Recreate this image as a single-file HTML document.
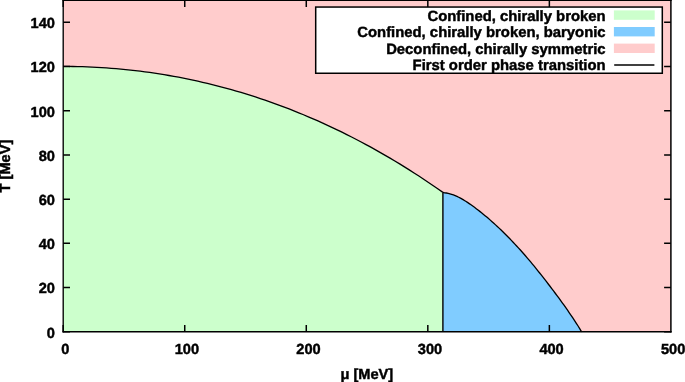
<!DOCTYPE html>
<html><head><meta charset="utf-8"><style>
html,body{margin:0;padding:0;background:#fff;}
svg{display:block;}
.ov{position:absolute;left:0;top:0;will-change:transform;}
.t{text-rendering:geometricPrecision;font-family:"Liberation Sans",sans-serif;font-weight:bold;font-size:14.6px;fill:#000;stroke:#000;stroke-width:0.45px;}
.l{font-size:14.85px;}
</style></head><body>
<div style="position:relative;width:685px;height:382px;">
<svg width="685" height="382" viewBox="0 0 685 382">
<rect x="63.2" y="0" width="607.6999999999999" height="332.0" fill="#ffcccc"/>
<polygon points="63.2,332.0 63.20,66.40 68.01,66.43 72.81,66.49 77.62,66.58 82.43,66.71 87.23,66.88 92.04,67.08 96.84,67.33 101.65,67.61 106.46,67.92 111.26,68.28 116.07,68.67 120.88,69.10 125.68,69.56 130.49,70.07 135.29,70.61 140.10,71.19 144.91,71.81 149.71,72.47 154.52,73.17 159.33,73.90 164.13,74.67 168.94,75.49 173.75,76.34 178.55,77.23 183.36,78.16 188.16,79.13 192.97,80.14 197.78,81.19 202.58,82.28 207.39,83.42 212.20,84.59 217.00,85.80 221.81,87.05 226.62,88.34 231.42,89.68 236.23,91.05 241.03,92.47 245.84,93.93 250.65,95.43 255.45,96.98 260.26,98.56 265.07,100.19 269.87,101.86 274.68,103.57 279.48,105.33 284.29,107.13 289.10,108.97 293.90,110.86 298.71,112.79 303.52,114.77 308.32,116.78 313.13,118.85 317.94,120.96 322.74,123.11 327.55,125.31 332.35,127.56 337.16,129.85 341.97,132.18 346.77,134.57 351.58,137.00 356.39,139.47 361.19,142.00 366.00,144.57 370.81,147.19 375.61,149.85 380.42,152.57 385.22,155.33 390.03,158.14 394.84,161.00 399.64,163.91 404.45,166.87 409.26,169.88 414.06,172.94 418.87,176.05 423.67,179.21 428.48,182.42 433.29,185.68 438.09,189.00 442.90,192.40 442.9,332.0" fill="#ccffcc"/>
<polygon points="442.9,332.0 442.90,192.40 444.66,192.77 446.41,193.00 448.17,193.34 449.92,193.78 451.68,194.31 453.43,194.92 455.19,195.62 456.95,196.40 458.70,197.24 460.46,198.16 462.21,199.14 463.97,200.18 465.72,201.27 467.48,202.40 469.24,203.59 470.99,204.81 472.75,206.06 474.50,207.35 476.26,208.66 478.01,210.00 479.77,211.37 481.53,212.76 483.28,214.18 485.04,215.63 486.79,217.11 488.55,218.61 490.30,220.13 492.06,221.69 493.82,223.26 495.57,224.87 497.33,226.49 499.08,228.15 500.84,229.82 502.59,231.52 504.35,233.25 506.11,234.99 507.86,236.76 509.62,238.56 511.37,240.37 513.13,242.21 514.88,244.08 516.64,245.96 518.39,247.88 520.15,249.81 521.91,251.77 523.66,253.76 525.42,255.77 527.17,257.80 528.93,259.86 530.68,261.95 532.44,264.06 534.20,266.20 535.95,268.36 537.71,270.54 539.46,272.73 541.22,274.95 542.97,277.19 544.73,279.44 546.49,281.70 548.24,283.98 550.00,286.27 551.75,288.58 553.51,290.90 555.26,293.24 557.02,295.59 558.78,297.97 560.53,300.37 562.29,302.79 564.04,305.24 565.80,307.72 567.55,310.23 569.31,312.77 571.07,315.34 572.82,317.96 574.58,320.60 576.33,323.29 578.09,326.02 579.84,328.80 581.60,331.80 580.8000000000001,332.0" fill="#80ccff"/>
<polyline points="63.20,66.40 68.01,66.43 72.81,66.49 77.62,66.58 82.43,66.71 87.23,66.88 92.04,67.08 96.84,67.33 101.65,67.61 106.46,67.92 111.26,68.28 116.07,68.67 120.88,69.10 125.68,69.56 130.49,70.07 135.29,70.61 140.10,71.19 144.91,71.81 149.71,72.47 154.52,73.17 159.33,73.90 164.13,74.67 168.94,75.49 173.75,76.34 178.55,77.23 183.36,78.16 188.16,79.13 192.97,80.14 197.78,81.19 202.58,82.28 207.39,83.42 212.20,84.59 217.00,85.80 221.81,87.05 226.62,88.34 231.42,89.68 236.23,91.05 241.03,92.47 245.84,93.93 250.65,95.43 255.45,96.98 260.26,98.56 265.07,100.19 269.87,101.86 274.68,103.57 279.48,105.33 284.29,107.13 289.10,108.97 293.90,110.86 298.71,112.79 303.52,114.77 308.32,116.78 313.13,118.85 317.94,120.96 322.74,123.11 327.55,125.31 332.35,127.56 337.16,129.85 341.97,132.18 346.77,134.57 351.58,137.00 356.39,139.47 361.19,142.00 366.00,144.57 370.81,147.19 375.61,149.85 380.42,152.57 385.22,155.33 390.03,158.14 394.84,161.00 399.64,163.91 404.45,166.87 409.26,169.88 414.06,172.94 418.87,176.05 423.67,179.21 428.48,182.42 433.29,185.68 438.09,189.00 442.90,192.40" fill="none" stroke="#000" stroke-width="1.3" stroke-linejoin="round"/>
<polyline points="442.90,192.40 444.66,192.77 446.41,193.00 448.17,193.34 449.92,193.78 451.68,194.31 453.43,194.92 455.19,195.62 456.95,196.40 458.70,197.24 460.46,198.16 462.21,199.14 463.97,200.18 465.72,201.27 467.48,202.40 469.24,203.59 470.99,204.81 472.75,206.06 474.50,207.35 476.26,208.66 478.01,210.00 479.77,211.37 481.53,212.76 483.28,214.18 485.04,215.63 486.79,217.11 488.55,218.61 490.30,220.13 492.06,221.69 493.82,223.26 495.57,224.87 497.33,226.49 499.08,228.15 500.84,229.82 502.59,231.52 504.35,233.25 506.11,234.99 507.86,236.76 509.62,238.56 511.37,240.37 513.13,242.21 514.88,244.08 516.64,245.96 518.39,247.88 520.15,249.81 521.91,251.77 523.66,253.76 525.42,255.77 527.17,257.80 528.93,259.86 530.68,261.95 532.44,264.06 534.20,266.20 535.95,268.36 537.71,270.54 539.46,272.73 541.22,274.95 542.97,277.19 544.73,279.44 546.49,281.70 548.24,283.98 550.00,286.27 551.75,288.58 553.51,290.90 555.26,293.24 557.02,295.59 558.78,297.97 560.53,300.37 562.29,302.79 564.04,305.24 565.80,307.72 567.55,310.23 569.31,312.77 571.07,315.34 572.82,317.96 574.58,320.60 576.33,323.29 578.09,326.02 579.84,328.80 581.60,331.80" fill="none" stroke="#000" stroke-width="1.3" stroke-linejoin="round"/>
<line x1="442.9" y1="192.4" x2="442.9" y2="331.8" stroke="#000" stroke-width="1.4"/>
<path d="M63.20,331.8v-6.8M63.20,0.2v6.8M184.74,331.8v-6.8M184.74,0.2v6.8M306.28,331.8v-6.8M306.28,0.2v6.8M427.82,331.8v-6.8M427.82,0.2v6.8M549.36,331.8v-6.8M549.36,0.2v6.8M63.2,331.80h6.8M670.9,331.80h-6.8M63.2,287.59h6.8M670.9,287.59h-6.8M63.2,243.37h6.8M670.9,243.37h-6.8M63.2,199.16h6.8M670.9,199.16h-6.8M63.2,154.95h6.8M670.9,154.95h-6.8M63.2,110.73h6.8M670.9,110.73h-6.8M63.2,66.52h6.8M670.9,66.52h-6.8M63.2,22.31h6.8M670.9,22.31h-6.8" stroke="#000" stroke-width="1.5" fill="none"/>
<path d="M63.2,-0.49999999999999994V332.5" stroke="#000" stroke-width="1.35" fill="none"/>
<path d="M670.9,-0.49999999999999994V332.5" stroke="#000" stroke-width="1.5" fill="none"/>
<path d="M62.5,331.8H671.65" stroke="#000" stroke-width="1.4" fill="none"/>
<path d="M62.5,0.2H671.65" stroke="#000" stroke-width="1.5" fill="none"/>
<rect x="315.7" y="7.05" width="346.59999999999997" height="66.2" fill="#fff" stroke="#000" stroke-width="1.5"/>
<rect x="613.9" y="10.40" width="40.8" height="9.4" fill="#ccffcc"/>
<rect x="613.9" y="27.00" width="40.8" height="9.4" fill="#80ccff"/>
<rect x="613.9" y="43.60" width="40.8" height="9.4" fill="#ffcccc"/>
<line x1="614.2" y1="64.90" x2="654.4" y2="64.90" stroke="#000" stroke-width="1.5"/>
</svg>
<svg class="ov" width="685" height="382" viewBox="0 0 685 382">
<text x="605.6" y="20.60" text-anchor="end" class="t l">Confined, chirally broken</text>
<text x="605.6" y="37.20" text-anchor="end" class="t l">Confined, chirally broken, baryonic</text>
<text x="605.6" y="53.80" text-anchor="end" class="t l">Deconfined, chirally symmetric</text>
<text x="605.6" y="70.40" text-anchor="end" class="t l">First order phase transition</text>
<text x="65.40" y="354.3" text-anchor="middle" class="t">0</text>
<text x="186.94" y="354.3" text-anchor="middle" class="t">100</text>
<text x="308.48" y="354.3" text-anchor="middle" class="t">200</text>
<text x="430.02" y="354.3" text-anchor="middle" class="t">300</text>
<text x="551.56" y="354.3" text-anchor="middle" class="t">400</text>
<text x="673.10" y="354.3" text-anchor="middle" class="t">500</text>
<text x="54.9" y="337.70" text-anchor="end" class="t">0</text>
<text x="54.9" y="293.49" text-anchor="end" class="t">20</text>
<text x="54.9" y="249.27" text-anchor="end" class="t">40</text>
<text x="54.9" y="205.06" text-anchor="end" class="t">60</text>
<text x="54.9" y="160.85" text-anchor="end" class="t">80</text>
<text x="54.9" y="116.63" text-anchor="end" class="t">100</text>
<text x="54.9" y="72.42" text-anchor="end" class="t">120</text>
<text x="54.9" y="28.21" text-anchor="end" class="t">140</text>
<text x="366.8" y="378.9" text-anchor="middle" class="t">μ [MeV]</text>
<text transform="translate(10.45,166.1) rotate(-90)" text-anchor="middle" class="t">T [MeV]</text>
</svg>
</div>
</body></html>
